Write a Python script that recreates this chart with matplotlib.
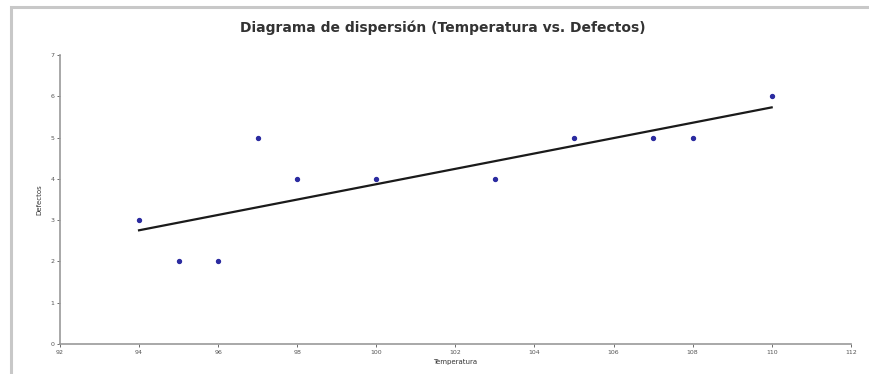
import numpy as np
import matplotlib
matplotlib.use("Agg")
import matplotlib.pyplot as plt
from matplotlib.patches import Rectangle

temperatura = [94, 95, 96, 97, 98, 100, 103, 105, 107, 108, 110]
defectos = [3, 2, 2, 5, 4, 4, 4, 5, 5, 5, 6]
x_ticks = list(range(92, 113, 2))
y_ticks = list(range(0, 8))


def plot_dispersion(filename="out.png"):
    fig = plt.figure(figsize=(8.69, 3.74), dpi=100)
    ax = fig.add_axes([0.069, 0.080, 0.910, 0.773])

    # marco gris alrededor del grafico
    fig.patches.append(
        Rectangle((0.013, -0.1), 1.1, 1.08, transform=fig.transFigure,
                  fill=False, edgecolor="#c8c8c8", linewidth=2.2)
    )

    ax.scatter(temperatura, defectos, s=8, color="#2b2ba0", zorder=3)

    # recta de regresion
    pendiente, corte = np.polyfit(temperatura, defectos, 1)
    xs = np.array([min(temperatura), max(temperatura)])
    ax.plot(xs, pendiente * xs + corte, color="#1a1a1a", linewidth=1.6)

    ax.set_xlim(92, 112)
    ax.set_ylim(0, 7)
    ax.set_xticks(x_ticks)
    ax.set_yticks(y_ticks)
    ax.tick_params(labelsize=4.5, colors="#555555", length=2, width=0.6, pad=2)
    for s in ["top", "right"]:
        ax.spines[s].set_visible(False)
    for s in ["left", "bottom"]:
        ax.spines[s].set_color("#999999")
        ax.spines[s].set_linewidth(1.2)

    ax.set_xlabel("Temperatura", fontsize=5, labelpad=3, color="#333333")
    ax.set_ylabel("Defectos", fontsize=5, labelpad=6, color="#333333")
    fig.text(0.509, 0.927, "Diagrama de dispersión (Temperatura vs. Defectos)",
             ha="center", va="center", fontsize=10, fontweight="bold",
             color="#333333")

    fig.savefig(filename, dpi=100)
    plt.close(fig)


plot_dispersion()
